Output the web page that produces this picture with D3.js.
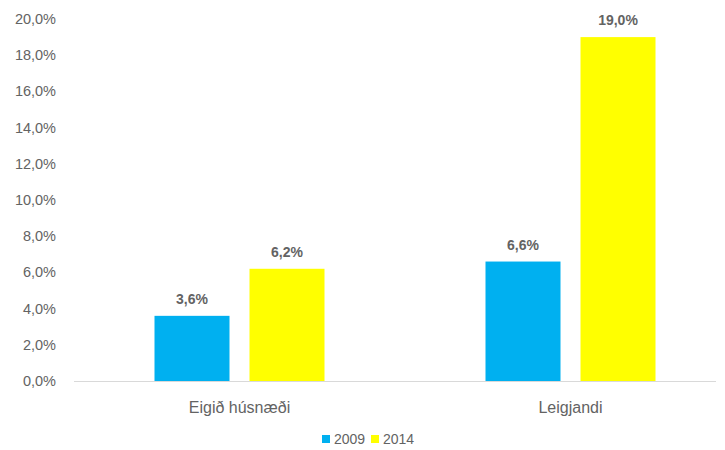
<!DOCTYPE html>
<html>
<head>
<meta charset="utf-8">
<script src="https://cdn.jsdelivr.net/npm/d3@7"></script>
<style>
  body { margin: 0; background: #fff; }
  text { font-family: "Liberation Sans", Arial, sans-serif; fill: #636363; }
</style>
</head>
<body>
<svg id="chart"></svg>
<script>
const width = 725, height = 450

// data
const categories = ["Eigið húsnæði", "Leigjandi"]
const years = ["2009", "2014"]
const values2009 = [3.6, 6.6]
const values2014 = [6.2, 19.0]
const yTicks = [0, 2, 4, 6, 8, 10, 12, 14, 16, 18, 20]
const colors = ["#00B0F0", "#FFFF00"]

const svg = d3.select("#chart")
    .attr("width", width)
    .attr("height", height)

const fmt = v => v.toFixed(1).replace(".", ",") + "%"

let x = d3.scaleBand()
    .domain(categories)
    .range([74, 736])

let inner = d3.scaleBand()
    .domain(years)
    .range([-85, 85])
    .paddingInner(20 / 95)

let y = d3.scaleLinear()
    .domain([0, 20])
    .range([381, 19])

// y labels
svg.append("g")
    .selectAll("text")
    .data(yTicks)
    .enter()
    .append("text")
    .attr("x", 56)
    .attr("y", d => y(d))
    .attr("dy", "0.35em")
    .attr("text-anchor", "end")
    .attr("font-size", 14.5)
    .text(d => fmt(d))

// baseline
svg.append("line")
    .attr("x1", 74).attr("x2", 716)
    .attr("y1", y(0) + 0.5).attr("y2", y(0) + 0.5)
    .attr("stroke", "#d9d9d9")
    .attr("stroke-width", 1)

let rows = []
categories.forEach((c, i) => {
    rows.push({ cat: c, year: years[0], v: values2009[i], color: colors[0] })
    rows.push({ cat: c, year: years[1], v: values2014[i], color: colors[1] })
})

let cx = d => x(d.cat) + x.bandwidth() / 2 + inner(d.year)

svg.append("g")
    .selectAll("rect")
    .data(rows)
    .enter()
    .append("rect")
    .attr("x", cx)
    .attr("width", inner.bandwidth())
    .attr("y", d => y(d.v))
    .attr("height", d => y(0) - y(d.v))
    .attr("fill", d => d.color)

svg.append("g")
    .selectAll("text")
    .data(rows)
    .enter()
    .append("text")
    .attr("x", d => cx(d) + inner.bandwidth() / 2)
    .attr("y", d => y(d.v) - 12)
    .attr("text-anchor", "middle")
    .attr("font-size", 14)
    .attr("font-weight", "bold")
    .text(d => fmt(d.v))

// category labels
svg.append("g")
    .selectAll("text")
    .data(categories)
    .enter()
    .append("text")
    .attr("x", d => x(d) + x.bandwidth() / 2)
    .attr("y", 413)
    .attr("text-anchor", "middle")
    .attr("font-size", 16)
    .text(d => d)

// legend
let legend = svg.append("g")
    .selectAll("g")
    .data(years)
    .enter()
    .append("g")
    .attr("transform", (d, i) => `translate(${322 + i * 49},439)`)

legend.append("rect")
    .attr("x", 0).attr("y", -4)
    .attr("width", 8).attr("height", 8)
    .attr("fill", (d, i) => colors[i])

legend.append("text")
    .attr("x", 12)
    .attr("dy", "0.35em")
    .attr("font-size", 14)
    .text(d => d)
</script>
</body>
</html>
